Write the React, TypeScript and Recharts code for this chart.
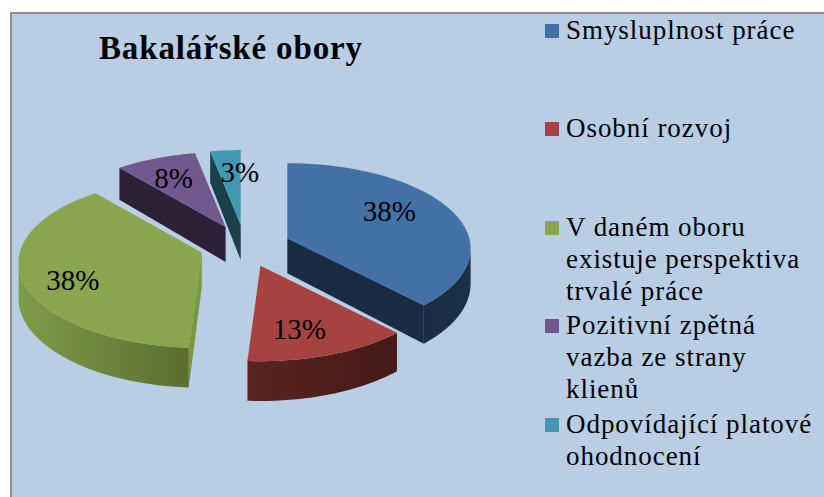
import React from 'react';
import { PieChart, Pie, Legend } from 'recharts';

const TITLE = 'Bakalářské obory';
const NAMES = [
  'Smysluplnost práce',
  'Osobní rozvoj',
  'V daném oboru\nexistuje perspektiva\ntrvalé práce',
  'Pozitivní zpětná\nvazba ze strany\nklienů',
  'Odpovídající platové\nohodnocení',
];
const VALUES = [38, 13, 38, 8, 3];

const TOP_COLORS = ['#4371A6', '#A64340', '#89A54E', '#71588F', '#4198AF'];
const RIM_LEFT = ['#1A2C44', '#5A2421', '#7E9C49', '#2C2137', '#1A4149'];
const RIM_RIGHT = ['#1C3049', '#451A17', '#5B6E30', '#2C2137', '#1A4149'];
const CUT_COLORS = ['#1A2C44', '#451A17', '#7A9840', '#2C2137', '#1A4149'];

// how far the slices are pulled out of the pie (fraction of radius)
const EXPLODE = 0.25;
const LABEL_SHIFT = [[102, -27], [39, 63], [-129, 28], [-52, -49], [-1, -53]];

const SQUASH = 0.4615;
const PERSPECTIVE = 0.12;
const DEPTH = 35;

const chartData = NAMES.map((name, i) => ({ name, value: VALUES[i], fill: TOP_COLORS[i] }));

const rad = (d: number) => (d * Math.PI) / 180;

// apex of an exploded slice on screen
const apexOf = (cx: number, cy: number, r: number, midAngle: number) => {
  const cw = rad(90 - midAngle);
  return {
    x: cx + r * EXPLODE * Math.sin(cw),
    y: cy - r * SQUASH * EXPLODE * Math.cos(cw),
  };
};

const PieSlice3D = (props: any) => {
  const { cx, cy, outerRadius, startAngle, endAngle, midAngle, name, fill } = props;
  const i = NAMES.indexOf(name);
  const apex = apexOf(cx, cy, outerRadius, midAngle);

  const rimPoint = (angle: number) => {
    const cw = rad(90 - angle);
    const u = Math.sin(cw);
    const v = -Math.cos(cw);
    const s = 1 / (1 - PERSPECTIVE * v);
    return { x: apex.x + outerRadius * u * s, y: apex.y + outerRadius * SQUASH * v * s, s };
  };

  const steps = 48;
  const rim = [];
  for (let k = 0; k <= steps; k++) rim.push(rimPoint(startAngle + ((endAngle - startAngle) * k) / steps));

  const topPath =
    `M${apex.x},${apex.y} ` + rim.map((p) => `L${p.x},${p.y}`).join(' ') + ' Z';

  // only edges running leftwards (screen clockwise) face the viewer
  const first = rim[0];
  const last = rim[rim.length - 1];
  const walls: React.ReactNode[] = [];
  const cutWall = (a: any, b: any, key: string) => (
    <path
      key={key}
      d={`M${a.x},${a.y} L${b.x},${b.y} L${b.x},${b.y + DEPTH * b.s} L${a.x},${a.y + DEPTH * a.s} Z`}
      fill={CUT_COLORS[i]}
    />
  );
  const apexPt = { ...apex, s: 1 };
  if (first.x < apex.x) walls.push(cutWall(apexPt, first, 'start'));
  if (apex.x < last.x) walls.push(cutWall(last, apexPt, 'end'));

  const front = rim.filter((p, k) => (k < steps ? rim[k + 1].x < p.x : rim[k - 1].x > p.x));
  const gradId = `rim-${i}`;
  let rimPath = '';
  let x1 = 0;
  let x2 = 1;
  if (front.length > 1) {
    rimPath =
      'M' +
      front.map((p) => `${p.x},${p.y}`).join(' L') +
      ' L' +
      [...front].reverse().map((p) => `${p.x},${p.y + DEPTH * p.s}`).join(' L') +
      ' Z';
    x1 = Math.min(...front.map((p) => p.x));
    x2 = Math.max(...front.map((p) => p.x));
  }

  return (
    <g>
      <defs>
        <linearGradient id={gradId} gradientUnits="userSpaceOnUse" x1={x1} x2={x2} y1={0} y2={0}>
          <stop offset="0%" stopColor={RIM_LEFT[i]} />
          <stop offset="100%" stopColor={RIM_RIGHT[i]} />
        </linearGradient>
      </defs>
      {walls}
      {rimPath && <path d={rimPath} fill={`url(#${gradId})`} />}
      <path d={topPath} fill={fill} />
    </g>
  );
};

const renderLabel = (props: any) => {
  const { cx, cy, outerRadius, midAngle, name, percent } = props;
  const i = NAMES.indexOf(name);
  const apex = apexOf(cx, cy, outerRadius, midAngle);
  return (
    <text
      x={apex.x + LABEL_SHIFT[i][0]}
      y={apex.y + LABEL_SHIFT[i][1]}
      textAnchor="middle"
      dominantBaseline="central"
      fontFamily="'Liberation Serif', serif"
      fontSize={29}
      fill="#000"
    >
      {`${Math.round(percent * 100)}%`}
    </text>
  );
};

const LegendRows = ({ payload }: any) => (
  <div
    style={{
      fontFamily: "'Liberation Serif', serif",
      fontSize: 27,
      letterSpacing: '0.95px',
      lineHeight: '32px',
      color: '#000',
    }}
  >
    {(payload || []).map((item: any) => (
      <div key={item.value} style={{ height: 98.4, display: 'flex' }}>
        <span
          style={{ width: 14, height: 14, marginTop: 9, marginRight: 7, flex: 'none', background: item.color }}
        />
        <span style={{ whiteSpace: 'pre-line', marginTop: -1 }}>{item.value}</span>
      </div>
    ))}
  </div>
);

export default function App() {
  return (
    <div style={{ position: 'absolute', left: 0, top: 0, width: 824, height: 497, overflow: 'hidden' }}>
      <div
        style={{
          position: 'absolute',
          left: 10,
          top: 12,
          width: 830,
          height: 500,
          background: '#B9CDE5',
          border: '2px solid #8C8C8C',
        }}
      />
      <div
        style={{
          position: 'absolute',
          left: 99,
          top: 28,
          fontFamily: "'Liberation Serif', serif",
          fontWeight: 'bold',
          fontSize: 33,
          letterSpacing: '0.85px',
          lineHeight: '40px',
          color: '#000',
          whiteSpace: 'nowrap',
        }}
      >
        {TITLE}
      </div>
      <PieChart
        width={824}
        height={497}
        margin={{ top: 0, right: 0, bottom: 0, left: 0 }}
        style={{ position: 'absolute', left: 0, top: 0 }}
      >
        <Pie
          data={chartData}
          dataKey="value"
          nameKey="name"
          cx={245}
          cy={246}
          outerRadius={182}
          startAngle={90}
          endAngle={-270}
          stroke="none"
          legendType="square"
          shape={PieSlice3D}
          label={renderLabel}
          labelLine={false}
          isAnimationActive={false}
        />
        <Legend
          layout="vertical"
          align="right"
          verticalAlign="top"
          itemSorter={null}
          content={<LegendRows />}
          wrapperStyle={{ left: 545, top: 15, width: 279 }}
        />
      </PieChart>
    </div>
  );
}
